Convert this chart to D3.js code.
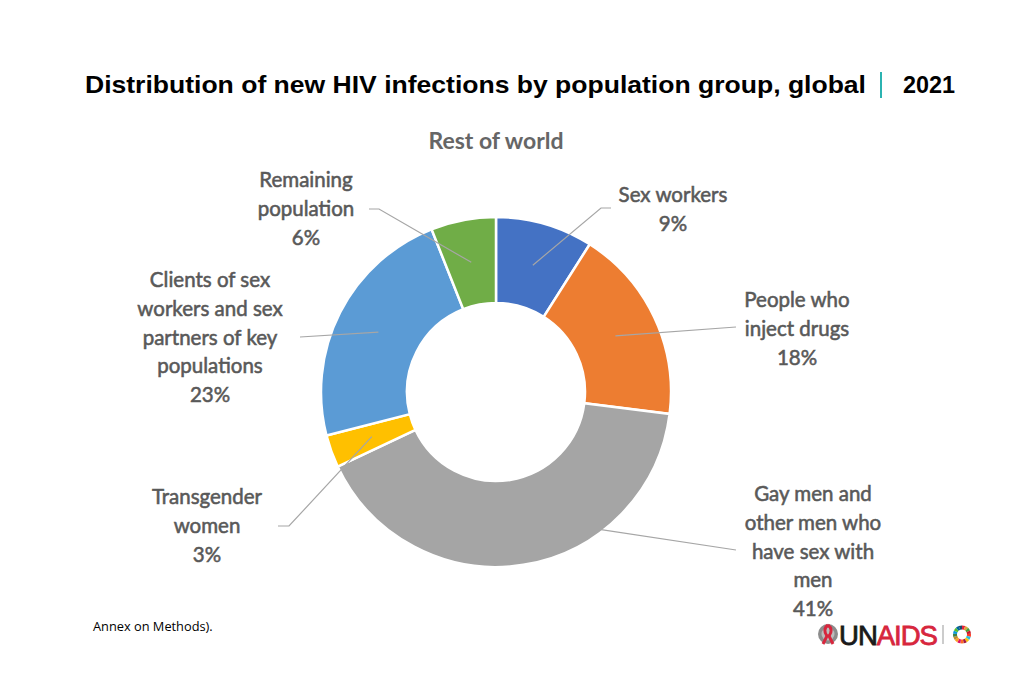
<!DOCTYPE html>
<html>
<head>
<meta charset="utf-8">
<script src="https://cdn.jsdelivr.net/npm/d3@7"></script>
<style>
  html, body { margin: 0; padding: 0; background: #fff; }
  svg { display: block; }
</style>
</head>
<body>
<svg id="vis" width="1024" height="683"></svg>
<script>
// Data (share of new HIV infections, rest of world, 2021)
const categories = [
  'Sex workers',
  'People who\ninject drugs',
  'Gay men and\nother men who\nhave sex with\nmen',
  'Transgender\nwomen',
  'Clients of sex\nworkers and sex\npartners of key\npopulations',
  'Remaining\npopulation',
];
const values = [9, 18, 41, 3, 23, 6];
const colors = ['#4472C4', '#ED7D31', '#A5A5A5', '#FFC000', '#5B9BD5', '#70AD47'];

const title = 'Distribution of new HIV infections by population group, global';
const year = '2021';
const subtitle = 'Rest of world';
const footnote = 'Annex on Methods).';

const cx = 496;
const cy = 392;
const outerR = 175;
const innerR = 89;

// Where each label block sits and how its leader line bends (layout only)
const labelLayout = [
  { x: 673, y: 195, elbow: [[601, 208], [611, 208]] },
  { x: 797, y: 300, elbow: [[736, 327]] },
  { x: 813, y: 494, elbow: [[736, 550]], from: { angle: 143, r: 172 } },
  { x: 207, y: 497, elbow: [[289, 526], [278, 526]] },
  { x: 210, y: 280, elbow: [[300, 337]] },
  { x: 306, y: 180, elbow: [[379, 209], [369, 209]] },
];

const svg = d3.select('#vis');

// Title
svg.append('text')
  .attr('x', 85)
  .attr('y', 93)
  .attr('textLength', 781)
  .attr('lengthAdjust', 'spacingAndGlyphs')
  .style('font-family', '"Liberation Sans", Arial, sans-serif')
  .style('font-weight', 'bold')
  .style('font-size', '24px')
  .attr('fill', '#000')
  .text(title);

svg.append('line')
  .attr('x1', 881).attr('x2', 881)
  .attr('y1', 72).attr('y2', 98)
  .attr('stroke', '#2BB3B1')
  .attr('stroke-width', 2);

svg.append('text')
  .attr('x', 903)
  .attr('y', 93)
  .attr('textLength', 52)
  .attr('lengthAdjust', 'spacingAndGlyphs')
  .style('font-family', '"Liberation Sans", Arial, sans-serif')
  .style('font-weight', 'bold')
  .style('font-size', '24px')
  .attr('fill', '#000')
  .text(year);

svg.append('text')
  .attr('x', cx)
  .attr('y', 149)
  .attr('text-anchor', 'middle')
  .style('font-family', 'Lato, "Open Sans", sans-serif')
  .style('font-weight', 'bold')
  .style('font-size', '23px')
  .attr('fill', '#666')
  .text(subtitle);

// Donut
const pie = d3.pie().sort(null).value((d) => d);
const arcs = pie(values);

const arc = d3.arc().innerRadius(innerR).outerRadius(outerR);
const mid = d3.arc().innerRadius((innerR + outerR) / 2).outerRadius((innerR + outerR) / 2);

const g = svg.append('g').attr('transform', `translate(${cx}, ${cy})`);

g.selectAll('path.slice')
  .data(arcs)
  .enter()
  .append('path')
  .classed('slice', true)
  .attr('d', arc)
  .attr('fill', (d, i) => colors[i])
  .attr('stroke', '#fff')
  .attr('stroke-width', 2.5);

// Leader lines
const line = d3.line();
arcs.forEach((d, i) => {
  const lay = labelLayout[i];
  let start;
  if (lay.from) {
    const a = lay.from.angle * Math.PI / 180;
    start = [cx + lay.from.r * Math.sin(a), cy - lay.from.r * Math.cos(a)];
  } else {
    const c = mid.centroid(d);
    start = [cx + c[0], cy + c[1]];
  }
  svg.append('path')
    .attr('d', line([start].concat(lay.elbow)))
    .attr('fill', 'none')
    .attr('stroke', '#A6A6A6')
    .attr('stroke-width', 1.2);
});

// Labels
const pct = d3.format('d');
arcs.forEach((d, i) => {
  const lay = labelLayout[i];
  const lines = categories[i].split('\n').concat([`${pct(values[i])}%`]);
  const t = svg.append('text')
    .attr('text-anchor', 'middle')
    .style('font-family', 'Lato, "Open Sans", sans-serif')
    .style('font-size', '20.5px')
    .attr('fill', '#595959')
    .attr('stroke', '#595959')
    .attr('stroke-width', 0.55);
  lines.forEach((s, j) => {
    t.append('tspan')
      .attr('x', lay.x)
      .attr('y', lay.y + j * 28.7)
      .attr('dy', '0.35em')
      .text(s);
  });
});

// Footnote
svg.append('text')
  .attr('x', 93)
  .attr('y', 631)
  .style('font-family', '"Open Sans", sans-serif')
  .style('font-size', '12.8px')
  .attr('fill', '#000')
  .text(footnote);

// UNAIDS logo (simplified)
const logo = svg.append('g').attr('transform', 'translate(818, 622)');
logo.append('circle').attr('cx', 10).attr('cy', 12).attr('r', 10).attr('fill', '#8c8c8c');
logo.append('circle').attr('cx', 10).attr('cy', 12).attr('r', 6.5).attr('fill', '#bdbdbd');
logo.append('path')
  .attr('d', 'M10 3 C6 6 6 10 9 14 L5 22 M10 3 C14 6 14 10 11 14 L15 22')
  .attr('fill', 'none')
  .attr('stroke', '#D7263D')
  .attr('stroke-width', 3);
const logoText = logo.append('text')
  .attr('x', 21)
  .attr('y', 23)
  .attr('textLength', 98)
  .attr('lengthAdjust', 'spacingAndGlyphs')
  .style('font-family', '"Liberation Sans", Arial, sans-serif')
  .style('font-size', '27px')
  .style('letter-spacing', '-1px')
  .attr('stroke-width', 0.8);
logoText.append('tspan').attr('fill', '#1a1a1a').attr('stroke', '#1a1a1a').text('UN');
logoText.append('tspan').attr('fill', '#D7263D').attr('stroke', '#D7263D').text('AIDS');
logo.append('line')
  .attr('x1', 125).attr('x2', 125).attr('y1', 3).attr('y2', 22)
  .attr('stroke', '#999').attr('stroke-width', 1);

const sdgColors = ['#E5243B', '#DDA63A', '#4C9F38', '#C5192D', '#FF3A21', '#26BDE2',
  '#FCC30B', '#A21942', '#FD6925', '#DD1367', '#FD9D24', '#BF8B2E', '#3F7E44',
  '#0A97D9', '#56C02B', '#00689D', '#19486A'];
const sdgArc = d3.arc().innerRadius(5).outerRadius(9);
const sdgPie = d3.pie().sort(null).value(() => 1);
logo.append('g')
  .attr('transform', 'translate(144, 12.5)')
  .selectAll('path')
  .data(sdgPie(sdgColors))
  .enter()
  .append('path')
  .attr('d', sdgArc)
  .attr('fill', (d) => d.data);
</script>
</body>
</html>
